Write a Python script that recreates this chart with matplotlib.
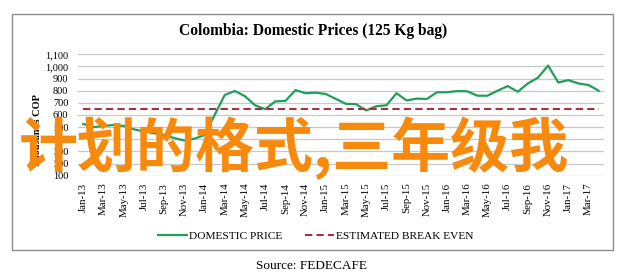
import numpy as np
import matplotlib
matplotlib.use("Agg")
import matplotlib.pyplot as plt
from matplotlib.patches import Rectangle

# datos (miles de COP por carga de 125 kg)
meses = ["Jan-13", "Feb-13", "Mar-13", "Apr-13", "May-13", "Jun-13", "Jul-13", "Aug-13",
         "Sep-13", "Oct-13", "Nov-13", "Dec-13", "Jan-14", "Feb-14", "Mar-14", "Apr-14",
         "May-14", "Jun-14", "Jul-14", "Aug-14", "Sep-14", "Oct-14", "Nov-14", "Dec-14",
         "Jan-15", "Feb-15", "Mar-15", "Apr-15", "May-15", "Jun-15", "Jul-15", "Aug-15",
         "Sep-15", "Oct-15", "Nov-15", "Dec-15", "Jan-16", "Feb-16", "Mar-16", "Apr-16",
         "May-16", "Jun-16", "Jul-16", "Aug-16", "Sep-16", "Oct-16", "Nov-16", "Dec-16",
         "Jan-17", "Feb-17", "Mar-17", "Apr-17"]
precio = [526, 500, 510, 518, 510, 482, 465, 450, 435, 410, 390, 405,
          435, 600, 765, 798, 755, 680, 648, 712, 716, 805, 779, 784,
          773, 732, 692, 689, 638, 672, 680, 779, 720, 735, 732, 787,
          787, 797, 795, 759, 759, 800, 838, 792, 860, 908, 1007, 868,
          887, 860, 847, 800]
equilibrio = 650

titulo = "Colombia: Domestic Prices (125 Kg bag)"
marca = "计划的格式,三年级我"

W, H = 622, 277
serif = "Liberation Serif"

fig = plt.figure(figsize=(W / 100, H / 100), dpi=100)

# marco exterior
fig.patches.append(Rectangle((12 / W, 1 - 250 / H), (613 - 12) / W, (250 - 14) / H,
                             transform=fig.transFigure, fill=False,
                             edgecolor="#8c8c8c", lw=1.0))

ax = fig.add_axes([78.2 / W, 1 - 175.7 / H, (603.7 - 78.2) / W, (175.7 - 54.3) / H])
x = np.arange(len(meses))
ax.plot(x, precio, color="#1f9e5c", lw=1.6, label="DOMESTIC PRICE")
ax.plot(x, [equilibrio] * len(x), color="#a3343f", lw=1.5, ls=(0, (3.5, 2)),
        label="ESTIMATED BREAK EVEN")

ax.set_xlim(-0.5, len(meses) - 0.5)
ax.set_ylim(100, 1100)
ax.set_yticks(range(100, 1101, 100))
ax.set_yticklabels([f"{v:,}" for v in range(100, 1101, 100)], fontfamily=serif, fontsize=7.5)
ax.set_xticks(x[::2])
ax.set_xticklabels(meses[::2], rotation=90, fontfamily=serif, fontsize=7.8)
ax.tick_params(length=0)
ax.tick_params(axis="y", pad=7)
ax.tick_params(axis="x", pad=5)
ax.grid(axis="y", color="#c8c8c8", lw=0.9)
ax.set_axisbelow(True)
for s in ax.spines.values():
    s.set_visible(False)

fig.text(37 / W, 1 - 131 / H, "Thousands COP", rotation=90, ha="center", va="center",
         fontfamily=serif, fontsize=7.5, fontweight="bold")

fig.text(313 / W, 1 - 31 / H, titulo, ha="center", va="center",
         fontfamily=serif, fontsize=11.2, fontweight="bold")

fig.legend(loc="center", bbox_to_anchor=(316 / W, 1 - 236 / H), ncol=2, frameon=False,
           prop={"family": serif, "size": 8.2}, handlelength=2.5, handletextpad=0.2,
           columnspacing=2.0)

fig.text(311 / W, 1 - 266 / H, "Source: FEDECAFE", ha="center", va="center",
         fontfamily=serif, fontsize=9.5)

# marca de agua naranja
fig.text(294 / W, 1 - 148 / H, marca, ha="center", va="center", color="#f78a0c",
         fontsize=42.5, fontweight="bold", family=["Noto Sans CJK SC", "DejaVu Sans"])

fig.savefig("out.png", dpi=100)
